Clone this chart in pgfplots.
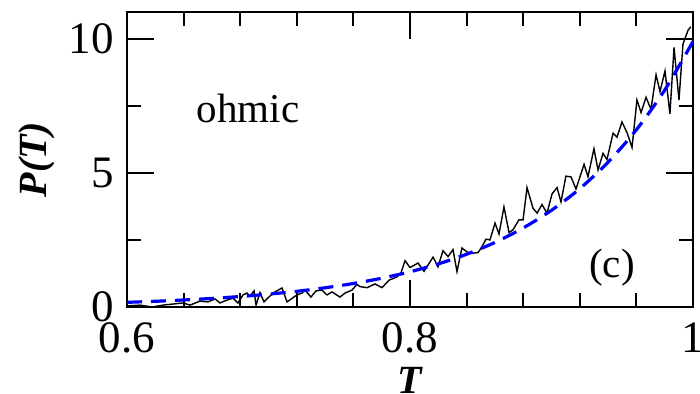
\documentclass[border=0pt]{standalone}
\usepackage{fontspec}
\setmainfont{Liberation Serif}
\usepackage{pgfplots}
\pgfplotsset{compat=1.18}
\begin{document}
\begin{tikzpicture}
\begin{axis}[
  scale only axis, width=283pt, height=147.5pt,
  xmin=0.6, xmax=1, ymin=0, ymax=11,
  xtick={0.6,0.8,1}, ytick={0,5,10},
  minor x tick num=4, minor y tick num=1,
  tick align=inside,
  major tick length=13.5pt, minor tick length=7pt,
  every tick/.style={black, line width=1pt},
  axis line style={line width=1pt},
  tick label style={font=\fontsize{22.5}{25}\selectfont},
  xticklabel style={inner sep=0pt, yshift=-7.5pt},
  yticklabel style={inner sep=0pt, xshift=-6.5pt},
  /pgf/number format/assume math mode=true,
  xlabel={T}, ylabel={P(T)},
  xlabel style={at={(axis description cs:0.5,-0.2034)}, anchor=north, inner sep=0pt, font=\fontsize{20}{22}\selectfont\bfseries\itshape},
  ylabel style={at={(axis description cs:-0.159,0.5)}, anchor=center, inner sep=0pt, font=\fontsize{20}{22}\selectfont\bfseries\itshape},
]
\addplot[black, line width=0.7pt] coordinates {
(0.6000,0.04) (0.6092,0.07) (0.6177,0.00) (0.6254,0.07) (0.6325,0.11) (0.6396,0.15)
(0.6445,0.07) (0.6516,0.22) (0.6572,0.19) (0.6622,0.30) (0.6657,0.15) (0.6707,0.26)
(0.6749,0.33) (0.6784,0.15) (0.6820,0.45) (0.6848,0.52) (0.6869,0.41) (0.6898,0.60)
(0.6912,0.07) (0.6940,0.54) (0.6968,0.19) (0.7032,0.52) (0.7095,0.71) (0.7131,0.19)
(0.7201,0.45) (0.7237,0.52) (0.7258,0.63) (0.7300,0.37) (0.7336,0.60) (0.7378,0.63)
(0.7413,0.45) (0.7449,0.56) (0.7505,0.37) (0.7541,0.52) (0.7590,0.63) (0.7625,0.84)
(0.7647,0.76) (0.7696,0.72) (0.7753,0.86) (0.7802,0.72) (0.7852,1.00) (0.7908,1.12)
(0.7936,1.27) (0.7965,1.73) (0.8000,1.47) (0.8057,1.64) (0.8099,1.33) (0.8163,1.86)
(0.8198,1.50) (0.8233,2.10) (0.8269,1.88) (0.8304,2.14) (0.8332,1.32) (0.8367,2.20)
(0.8403,2.05) (0.8438,2.00) (0.8481,2.03) (0.8509,2.25) (0.8537,2.53) (0.8565,2.50)
(0.8601,3.13) (0.8629,2.72) (0.8664,3.73) (0.8700,2.78) (0.8728,2.88) (0.8770,3.25)
(0.8799,3.25) (0.8827,4.45) (0.8869,3.69) (0.8898,3.50) (0.8933,3.82) (0.8968,3.50)
(0.9004,4.22) (0.9039,4.45) (0.9067,3.92) (0.9102,4.88) (0.9138,4.85) (0.9173,4.40)
(0.9230,5.32) (0.9258,4.86) (0.9300,5.90) (0.9329,5.11) (0.9364,5.73) (0.9392,5.50)
(0.9435,6.48) (0.9463,6.33) (0.9498,6.90) (0.9534,6.50) (0.9569,5.95) (0.9604,7.72)
(0.9633,7.25) (0.9668,7.82) (0.9703,7.37) (0.9739,8.66) (0.9767,8.03) (0.9802,8.80)
(0.9837,7.20) (0.9866,9.68) (0.9901,7.72) (0.9929,9.80) (0.9965,10.32) (0.9985,10.45)
};
\addplot[blue, line width=1.6pt, dash pattern=on 7.5pt off 4.5pt, smooth] coordinates {
(0.60,0.174) (0.62,0.213) (0.64,0.261) (0.66,0.319) (0.68,0.391) (0.70,0.478)
(0.72,0.585) (0.74,0.716) (0.76,0.877) (0.78,1.073) (0.80,1.313) (0.82,1.607)
(0.84,1.967) (0.86,2.407) (0.88,2.947) (0.90,3.606) (0.92,4.413) (0.94,5.401)
(0.96,6.609) (0.98,8.089) (1.00,9.900)
};
\node[font=\fontsize{20.5}{24}\selectfont, anchor=base] at (axis cs:0.6855,6.87) {ohmic};
\node[font=\fontsize{20.5}{24}\selectfont, anchor=center] at (axis cs:0.9428,1.47) {(c)};
\end{axis}
\pgfresetboundingbox
\path ([shift={(-63.5pt,-43.5pt)}]current axis.south west) rectangle ([shift={(3.5pt,6pt)}]current axis.north east);
\end{tikzpicture}
\end{document}
